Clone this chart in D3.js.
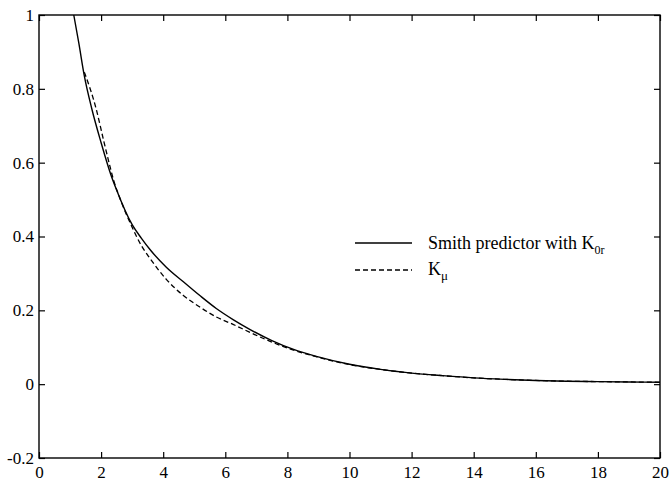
<!DOCTYPE html>
<html><head><meta charset="utf-8">
<script src="https://cdn.jsdelivr.net/npm/d3@7"></script>
<style>
html,body{margin:0;padding:0;background:#fff;}
svg{display:block;}
</style></head>
<body>
<svg id="chart" width="672" height="483"></svg>
<script>
// Data
const smithX = [1.12, 1.28, 1.46, 1.70, 1.99, 2.32, 2.48, 3.0, 3.3, 3.6, 4.1, 4.64, 5.18, 5.71, 6.25, 6.8, 7.5, 8.2, 8.9, 10, 11, 12, 13, 14, 15, 16, 17, 18, 19, 20];
const smithY = [1.0, 0.925, 0.835, 0.746, 0.657, 0.566, 0.53, 0.432, 0.395, 0.362, 0.317, 0.278, 0.24, 0.205, 0.175, 0.148, 0.118, 0.094, 0.076, 0.054, 0.040, 0.030, 0.023, 0.017, 0.013, 0.010, 0.008, 0.007, 0.006, 0.005];
const kmuX = [1.46, 1.84, 2.09, 2.30, 2.40, 2.6, 3.0, 3.3, 3.58, 4.1, 4.64, 5.18, 5.71, 6.25, 6.8, 7.5, 8.2, 8.9, 10, 11, 12, 13, 14, 15, 16, 17, 18, 19, 20];
const kmuY = [0.845, 0.746, 0.657, 0.585, 0.553, 0.505, 0.425, 0.375, 0.34, 0.284, 0.241, 0.209, 0.182, 0.162, 0.14, 0.114, 0.092, 0.075, 0.053, 0.040, 0.030, 0.023, 0.017, 0.013, 0.010, 0.008, 0.007, 0.006, 0.005];
const xTicks = [0, 2, 4, 6, 8, 10, 12, 14, 16, 18, 20];
const yTicks = [-0.2, 0, 0.2, 0.4, 0.6, 0.8, 1];
const yTickLabels = ["-0.2", "0", "0.2", "0.4", "0.6", "0.8", "1"];

const FONT = '"Liberation Serif", "Times New Roman", serif';
const svg = d3.select("#chart");
const L = 39, R = 660, T = 15, B = 458;
const x = d3.scaleLinear().domain([0, 20]).range([L, R]);
const y = d3.scaleLinear().domain([-0.2, 1]).range([B, T]);

// frame
svg.append("rect").attr("x", L).attr("y", T).attr("width", R - L).attr("height", B - T)
  .attr("fill", "none").attr("stroke", "#000").attr("stroke-width", 1.4);

const tl = 6;
const xb = svg.append("g").attr("transform", `translate(0,${B})`)
  .call(d3.axisBottom(x).tickValues(xTicks).tickSizeInner(-tl).tickSizeOuter(0).tickPadding(8).tickFormat(d3.format("d")));
const xt = svg.append("g").attr("transform", `translate(0,${T})`)
  .call(d3.axisTop(x).tickValues(xTicks).tickSizeInner(-tl).tickSizeOuter(0).tickFormat(""));
const yl = svg.append("g").attr("transform", `translate(${L},0)`)
  .call(d3.axisLeft(y).tickValues(yTicks).tickSizeInner(-tl).tickSizeOuter(0).tickPadding(5)
    .tickFormat((d, i) => yTickLabels[i]));
const yr = svg.append("g").attr("transform", `translate(${R},0)`)
  .call(d3.axisRight(y).tickValues(yTicks).tickSizeInner(-tl).tickSizeOuter(0).tickFormat(""));

[xb, xt, yl, yr].forEach(g => {
  g.attr("font-family", FONT).attr("font-size", 17);
  g.select(".domain").remove();
  g.selectAll(".tick line").attr("stroke", "#000").attr("stroke-width", 1.2);
  g.selectAll("text").attr("fill", "#000");
});

const line = d3.line().x(d => x(d[0])).y(d => y(d[1])).curve(d3.curveMonotoneX);
const smith = smithX.map((v, i) => [v, smithY[i]]);
const kmu = kmuX.map((v, i) => [v, kmuY[i]]);

svg.append("path").datum(kmu).attr("d", line).attr("fill", "none")
  .attr("stroke", "#000").attr("stroke-width", 1.3).attr("stroke-dasharray", "5,3");
svg.append("path").datum(smith).attr("d", line).attr("fill", "none")
  .attr("stroke", "#000").attr("stroke-width", 1.4);

// legend
const lg = svg.append("g").attr("font-family", FONT);
lg.append("line").attr("x1", 355).attr("x2", 412).attr("y1", 243).attr("y2", 243)
  .attr("stroke", "#000").attr("stroke-width", 1.4);
lg.append("line").attr("x1", 355).attr("x2", 412).attr("y1", 270).attr("y2", 270)
  .attr("stroke", "#000").attr("stroke-width", 1.3).attr("stroke-dasharray", "5,3");
const t1 = lg.append("text").attr("x", 428).attr("y", 249).attr("font-size", 18).attr("fill", "#000");
t1.append("tspan").text("Smith predictor with K");
t1.append("tspan").attr("dy", 5).attr("font-size", 12).text("0r");
const t2 = lg.append("text").attr("x", 428).attr("y", 275).attr("font-size", 18).attr("fill", "#000");
t2.append("tspan").text("K");
t2.append("tspan").attr("dy", 5).attr("font-size", 13).text("μ");
</script>
</body></html>
